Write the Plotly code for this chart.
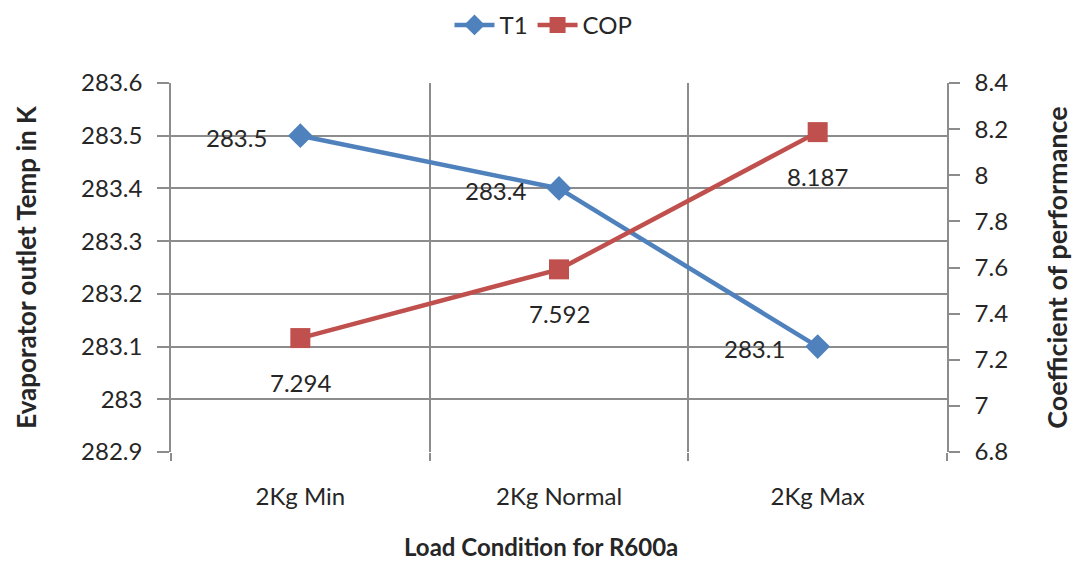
import plotly.graph_objects as go

categories = ["2Kg Min", "2Kg Normal", "2Kg Max"]
t1_values = [283.5, 283.4, 283.1]
cop_values = [7.294, 7.592, 8.187]

left_ticks = [282.9, 283.0, 283.1, 283.2, 283.3, 283.4, 283.5, 283.6]
left_ticktext = ["282.9", "283", "283.1", "283.2", "283.3", "283.4", "283.5", "283.6"]
right_ticks = [6.8, 7.0, 7.2, 7.4, 7.6, 7.8, 8.0, 8.2, 8.4]
right_ticktext = ["6.8", "7", "7.2", "7.4", "7.6", "7.8", "8", "8.2", "8.4"]

BLUE = "#4F81BD"
RED = "#C0504D"
GRID = "#8C8C8C"
TEXT = "#262626"
FONT = "Lato, 'Open Sans', sans-serif"
TICK_SIZE = 24

xpos = list(range(len(categories)))

fig = go.Figure()
fig.add_trace(go.Scatter(
    x=xpos, y=t1_values, name="T1", mode="lines+markers",
    line=dict(color=BLUE, width=4.5),
    marker=dict(symbol="diamond", size=19, color=BLUE),
    yaxis="y",
))
fig.add_trace(go.Scatter(
    x=xpos, y=cop_values, name="COP", mode="lines+markers",
    line=dict(color=RED, width=4.5),
    marker=dict(symbol="square", size=20, color=RED),
    yaxis="y2",
))

annotations = []
for x, v in zip(xpos, t1_values):
    annotations.append(dict(
        x=x, y=v, xref="x", yref="y", text=f"{v:g}", showarrow=False,
        xanchor="right", yanchor="middle", xshift=-31, yshift=-2,
        font=dict(size=TICK_SIZE, color=TEXT, family=FONT),
    ))
for x, v in zip(xpos, cop_values):
    annotations.append(dict(
        x=x, y=v, xref="x", yref="y2", text=f"{v:g}", showarrow=False,
        xanchor="center", yanchor="top", yshift=-28,
        font=dict(size=TICK_SIZE, color=TEXT, family=FONT),
    ))

# category-axis title, placed below the tick labels
annotations.append(dict(
    x=0.477, y=-0.255, xref="paper", yref="paper",
    text="<b>Load Condition for R600a</b>", showarrow=False,
    xanchor="center", yanchor="middle",
    font=dict(size=24, family=FONT, color=TEXT),
))

fig.update_layout(
    width=1084, height=568,
    margin=dict(l=171, r=137, t=83, b=116),
    paper_bgcolor="white", plot_bgcolor="white",
    font=dict(family=FONT, color=TEXT, size=TICK_SIZE),
    showlegend=True,
    legend=dict(
        orientation="h", x=0.48, xanchor="center", y=0.995, yanchor="top",
        yref="container", font=dict(size=TICK_SIZE, family=FONT, color=TEXT),
        traceorder="normal", itemwidth=40,
    ),
    annotations=annotations,
    xaxis=dict(
        range=[-0.5, 2.5],
        tickmode="array", tickvals=xpos, ticktext=categories,
        ticks="", showgrid=False, zeroline=False,
        showline=False, ticklabelstandoff=28,
        tickfont=dict(size=TICK_SIZE, family=FONT, color=TEXT),
        minor=dict(tick0=0.5, dtick=1, showgrid=True, gridcolor=GRID,
                   gridwidth=1.5, ticks="outside", ticklen=8,
                   tickcolor=GRID, tickwidth=1.5),
    ),
    yaxis=dict(
        range=[282.9, 283.6],
        tickmode="array", tickvals=left_ticks, ticktext=left_ticktext,
        showgrid=True, gridcolor=GRID, gridwidth=1.5,
        ticks="outside", ticklen=12, tickcolor=GRID, tickwidth=1.5,
        showline=True, linecolor=GRID, linewidth=1.5,
        zeroline=False, ticklabelstandoff=10,
        tickfont=dict(size=TICK_SIZE, family=FONT, color=TEXT),
        title=dict(text="<b>Evaporator outlet Temp in K</b>", standoff=37,
                   font=dict(size=26, family=FONT, color=TEXT)),
    ),
    yaxis2=dict(
        range=[6.8, 8.4], overlaying="y", side="right",
        tickmode="array", tickvals=right_ticks, ticktext=right_ticktext,
        showgrid=False,
        ticks="outside", ticklen=11, tickcolor=GRID, tickwidth=1.5,
        showline=True, linecolor=GRID, linewidth=1.5,
        zeroline=False, ticklabelstandoff=10,
        tickfont=dict(size=TICK_SIZE, family=FONT, color=TEXT),
        title=dict(text="<b>Coefficient of performance</b>", standoff=41,
                   font=dict(size=27, family=FONT, color=TEXT)),
    ),
)

fig.write_html("out.html")
